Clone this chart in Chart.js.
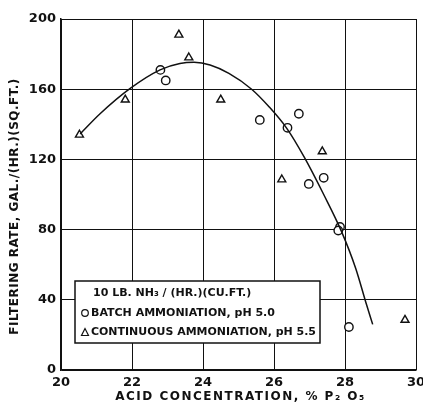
<!DOCTYPE html>
<html>
<head>
<meta charset="utf-8">
<script src="https://cdn.jsdelivr.net/npm/chart.js@4.4.1/dist/chart.umd.min.js"></script>
<style>
  html, body { margin: 0; padding: 0; background: #fff; }
  #wrap { width: 423px; height: 414px; position: relative; }
</style>
</head>
<body>
<div id="wrap"><canvas id="grafico"></canvas></div>
<script>
// fitted curve
const curvaX = [20.54, 21.1, 21.94, 22.79, 23.35, 23.75, 24.2, 24.73, 25.37, 25.86, 26.36, 26.86, 27.4, 27.9, 28.3, 28.61, 28.78];
const curvaY = [134.5, 146, 160.3, 171, 174.6, 175.3, 173.8, 169, 160, 150, 137.7, 121, 100, 79, 58, 37, 26];

// batch ammoniation, pH 5.0 (circles)
const bateladaX = [22.8, 22.95, 25.6, 26.38, 26.7, 26.98, 27.4, 27.86, 27.81, 28.11];
const bateladaY = [171, 165, 142.5, 138, 146, 106, 109.5, 81.5, 79.5, 24.5];

// continuous ammoniation, pH 5.5 (triangles)
const continuaX = [20.52, 21.81, 23.32, 23.6, 24.5, 26.22, 27.36, 29.69];
const continuaY = [134, 154, 191, 178, 154, 108.5, 124.5, 28.5];

const tituloY = 'FILTERING RATE, GAL./(HR.)(SQ.FT.)';
const tituloX = 'ACID CONCENTRATION, % P\u2082 O\u2085';
const legendaLinhas = [
    '10 LB. NH\u2083 / (HR.)(CU.FT.)',
    'BATCH AMMONIATION, pH 5.0',
    'CONTINUOUS AMMONIATION, pH 5.5'
];

const FONTE = '"DejaVu Sans", sans-serif';
const TINTA = '#111';

function pares(xs, ys) { return xs.map((x, i) => ({ x: x, y: ys[i] })); }

const extras = {
    id: 'extras',
    afterDraw(chart) {
        const ctx = chart.ctx;
        const area = chart.chartArea;
        ctx.save();
        ctx.fillStyle = TINTA;
        ctx.strokeStyle = TINTA;

        // y title
        ctx.font = 'bold 12px ' + FONTE;
        if ('letterSpacing' in ctx) ctx.letterSpacing = '0.5px';
        ctx.textAlign = 'center';
        ctx.textBaseline = 'middle';
        ctx.save();
        ctx.translate(15, (area.top + area.bottom) / 2 + 12);
        ctx.rotate(-Math.PI / 2);
        ctx.fillText(tituloY, 0, 0);
        ctx.restore();

        // x title
        if ('letterSpacing' in ctx) ctx.letterSpacing = '1.5px';
        ctx.fillText(tituloX, (area.left + area.right) / 2 + 2, 397);

        // legend box
        if ('letterSpacing' in ctx) ctx.letterSpacing = '0px';
        const bx = 75, by = 281, bw = 245, bh = 62;
        ctx.fillStyle = '#fff';
        ctx.fillRect(bx, by, bw, bh);
        ctx.lineWidth = 1.5;
        ctx.strokeRect(bx, by, bw, bh);
        ctx.fillStyle = TINTA;
        ctx.font = 'bold 11px ' + FONTE;
        ctx.textAlign = 'left';
        ctx.fillText(legendaLinhas[0], 93, by + 12, bw - 22);
        ctx.fillText(legendaLinhas[1], 91, by + 32, bw - 20);
        ctx.fillText(legendaLinhas[2], 91, by + 51, bw - 20);
        ctx.lineWidth = 1.2;
        ctx.beginPath();
        ctx.arc(85, by + 32, 3.3, 0, Math.PI * 2);
        ctx.stroke();
        ctx.beginPath();
        ctx.moveTo(81.5, by + 54.5);
        ctx.lineTo(88.5, by + 54.5);
        ctx.lineTo(85, by + 47.5);
        ctx.closePath();
        ctx.stroke();
        ctx.restore();
    }
};

new Chart(document.getElementById('grafico'), {
    type: 'scatter',
    data: {
        datasets: [
            {
                type: 'line',
                data: pares(curvaX, curvaY),
                borderColor: TINTA,
                borderWidth: 1.5,
                pointRadius: 0,
                cubicInterpolationMode: 'monotone',
                fill: false
            },
            {
                data: pares(bateladaX, bateladaY),
                pointStyle: 'circle',
                pointRadius: 4.2,
                pointBackgroundColor: '#fff',
                pointBorderColor: TINTA,
                pointBorderWidth: 1.4
            },
            {
                data: pares(continuaX, continuaY),
                pointStyle: 'triangle',
                pointRadius: 4.6,
                pointBackgroundColor: '#fff',
                pointBorderColor: TINTA,
                pointBorderWidth: 1.4
            }
        ]
    },
    options: {
        responsive: true,
        maintainAspectRatio: false,
        animation: false,
        layout: { padding: { top: 19, right: 7, left: 0, bottom: 0 } },
        plugins: { legend: { display: false }, tooltip: { enabled: false } },
        scales: {
            x: {
                type: 'linear', min: 20, max: 30,
                ticks: { stepSize: 2, color: TINTA, font: { family: FONTE, size: 13, weight: 'bold' }, padding: 5, maxRotation: 0 },
                grid: { color: TINTA, lineWidth: 1, drawTicks: false },
                border: { color: TINTA, width: 1.5 },
                afterFit(s) { s.height = 44; s.paddingLeft = 0; s.paddingRight = 0; }
            },
            y: {
                min: 0, max: 200,
                ticks: { stepSize: 40, color: TINTA, font: { family: FONTE, size: 13, weight: 'bold' }, padding: 5 },
                grid: { color: TINTA, lineWidth: 1, drawTicks: false },
                border: { color: TINTA, width: 1.5 },
                afterFit(s) { s.width = 61; s.paddingTop = 0; s.paddingBottom = 0; }
            }
        }
    },
    plugins: [extras]
});
</script>
</body>
</html>
